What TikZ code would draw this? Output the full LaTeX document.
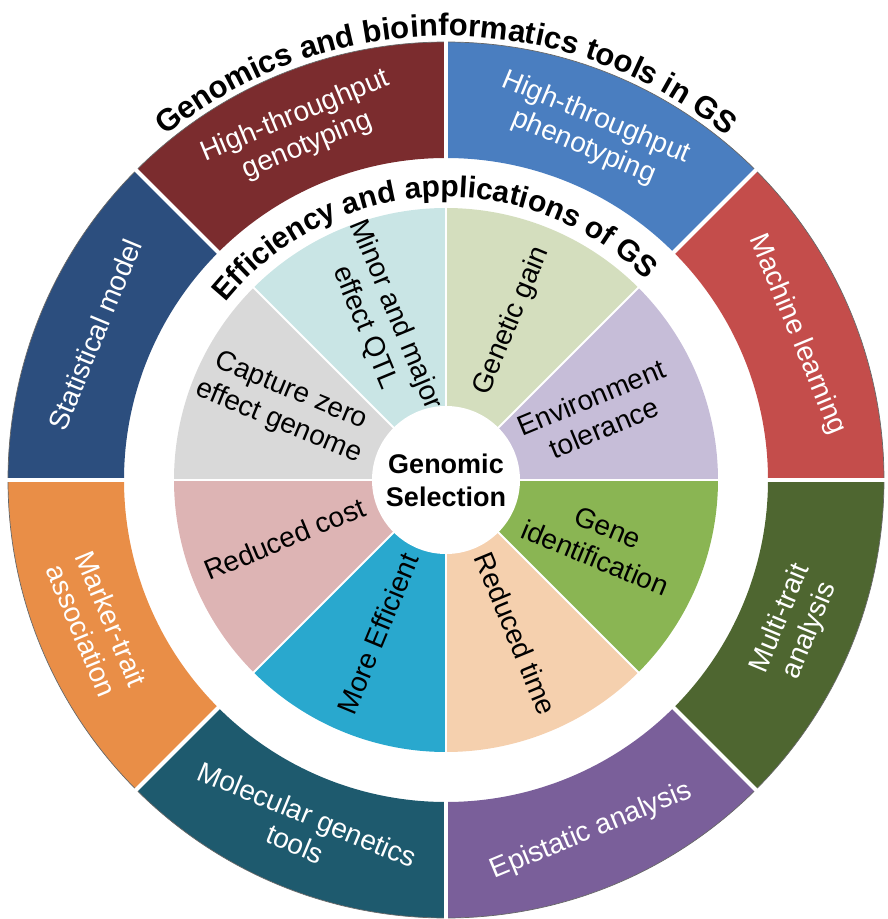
\documentclass[tikz,border=0pt]{standalone}
\usepackage{fontspec}
\setmainfont{Liberation Sans}
\usetikzlibrary{decorations.text}

% outer ring colours
\definecolor{genoRed}{RGB}{123,44,46}
\definecolor{phenoBlue}{RGB}{74,126,192}
\definecolor{mlRed}{RGB}{196,77,75}
\definecolor{multiGreen}{RGB}{78,102,48}
\definecolor{epiPurple}{RGB}{122,95,154}
\definecolor{molTeal}{RGB}{30,90,110}
\definecolor{markerOrange}{RGB}{233,142,71}
\definecolor{statBlue}{RGB}{44,78,126}
% inner wedge colours
\definecolor{qtlCyan}{RGB}{201,229,229}
\definecolor{gainGreen}{RGB}{212,222,190}
\definecolor{envLavender}{RGB}{198,189,216}
\definecolor{geneGreen}{RGB}{138,181,83}
\definecolor{timePeach}{RGB}{245,208,174}
\definecolor{effBlue}{RGB}{41,168,206}
\definecolor{costPink}{RGB}{221,180,180}
\definecolor{zeroGray}{RGB}{217,217,217}

% annular sector: colour, start angle, end angle, inner radius, outer radius
\newcommand\ringsector[5]{%
  \fill[#1] (#2:#4) arc[start angle=#2, end angle=#3, radius=#4]
    -- (#3:#5) arc[start angle=#3, end angle=#2, radius=#5] -- cycle;}

\begin{document}
\begin{tikzpicture}[
  ringlabel/.style={text=white, align=center, inner sep=0pt,
    font=\fontsize{28}{32}\selectfont},
  wedgelabel/.style={text=black, align=center, inner sep=0pt,
    font=\fontsize{28}{33}\selectfont},
  hublabel/.style={text=black, align=center, inner sep=0pt,
    font=\bfseries\fontsize{27}{33}\selectfont},
]
\useasboundingbox (-446pt,-439pt) rectangle (441pt,480pt);

% outer ring: genomics and bioinformatics tools
\ringsector{genoRed}{90}{135}{322pt}{438pt}
\ringsector{phenoBlue}{45}{90}{322pt}{438pt}
\ringsector{mlRed}{0}{45}{322pt}{438pt}
\ringsector{multiGreen}{-45}{0}{322pt}{438pt}
\ringsector{epiPurple}{-90}{-45}{322pt}{438pt}
\ringsector{molTeal}{-135}{-90}{322pt}{438pt}
\ringsector{markerOrange}{-180}{-135}{322pt}{438pt}
\ringsector{statBlue}{135}{180}{322pt}{438pt}
\draw[black!60, line width=0.7pt] (0,0) circle (438pt);

% inner wedges: efficiency and applications
\ringsector{qtlCyan}{90}{135}{0pt}{272pt}
\ringsector{gainGreen}{45}{90}{0pt}{272pt}
\ringsector{envLavender}{0}{45}{0pt}{272pt}
\ringsector{geneGreen}{-45}{0}{0pt}{272pt}
\ringsector{timePeach}{-90}{-45}{0pt}{272pt}
\ringsector{effBlue}{-135}{-90}{0pt}{272pt}
\ringsector{costPink}{-180}{-135}{0pt}{272pt}
\ringsector{zeroGray}{135}{180}{0pt}{272pt}

% white separators between the segments
\foreach \a in {0,45,...,315} {
  \draw[white, line width=4pt] (\a:318pt) -- (\a:442pt);
  \draw[white, line width=2pt] (\a:0pt) -- (\a:274pt);
}

% hub
\fill[white] (0,0) circle (74pt);
\node[hublabel] (hub) at (0,0) {Genomic\\Selection};

% outer ring labels
\node[ringlabel, rotate=22.5]  (geno)   at (112.5:378pt) {High-throughput\\genotyping};
\node[ringlabel, rotate=-22.5] (pheno)  at (67.5:376pt)  {High-throughput\\phenotyping};
\node[ringlabel, rotate=-67.5] (ml)     at (22.5:380pt)  {Machine learning};
\node[ringlabel, rotate=67.5]  (multi)  at (-22.5:378pt) {Multi-trait\\analysis};
\node[ringlabel, rotate=22.5]  (epi)    at (-67.5:380pt) {Epistatic analysis};
\node[ringlabel, rotate=-22.5] (mol)    at (-112.5:378pt) {Molecular genetics\\tools};
\node[ringlabel, rotate=-67.5] (marker) at (-157.5:378pt) {Marker-trait\\association};
\node[ringlabel, rotate=67.5]  (stat)   at (157.5:380pt) {Statistical model};

% inner wedge labels
\node[wedgelabel, rotate=-67.5] (qtl)  at (112.5:172pt) {Minor and major\\effect QTL};
\node[wedgelabel, rotate=67.5]  (gain) at (67.5:172pt)  {Genetic gain};
\node[wedgelabel, rotate=22.5]  (env)  at (24:166pt)    {Environment\\tolerance};
\node[wedgelabel, rotate=-22.5] (gene) at (-22:168pt)   {Gene\\identification};
\node[wedgelabel, rotate=-67.5] (time) at (-65.5:169pt) {Reduced time};
\node[wedgelabel, rotate=67.5]  (eff)  at (-114:168pt)  {More Efficient};
\node[wedgelabel, rotate=22.5]  (cost) at (-160:172pt)  {Reduced cost};
\node[wedgelabel, rotate=-22.5] (zero) at (155.5:177pt) {Capture zero\\effect genome};

% curved titles
\path[decorate, decoration={text along path, text align=center,
  text={|\bfseries\fontsize{31}{31}\selectfont|Genomics and bioinformatics tools in GS}}]
  (170:444pt) arc[start angle=170, end angle=10, radius=444pt];
\path[decorate, decoration={text along path, text align=center,
  text={|\bfseries\fontsize{30}{30}\selectfont|Efficiency and applications of GS}}]
  (178:283pt) arc[start angle=178, end angle=8, radius=283pt];
\end{tikzpicture}
\end{document}
